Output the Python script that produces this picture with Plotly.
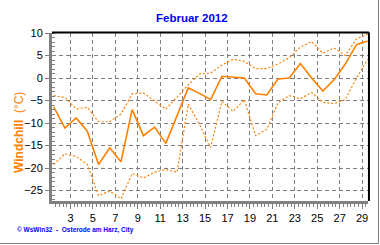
import plotly.graph_objects as go
from datetime import datetime, timedelta

# ---- data ----
days = list(range(1, 30))
windchill_mean = [-6.4, -11.1, -8.85, -11.8, -19.2, -15.5, -18.6, -7.0, -12.8, -10.9,
                  -14.5, -8.3, -2.2, -3.4, -4.8, 0.4, 0.2, 0.0, -3.5, -3.75,
                  -0.2, 0.0, 3.2, 0.0, -2.9, -0.4, 3.1, 7.4, 8.2]
windchill_max = [-3.9, -4.3, -6.85, -6.5, -9.7, -9.7, -8.0, -3.5, -3.3, -5.2,
                 -6.9, -4.2, -1.5, 0.9, 1.1, 2.9, 4.2, 3.7, 2.1, 2.1,
                 3.1, 4.5, 6.9, 8.1, 5.5, 6.7, 5.0, 8.7, 9.8]
windchill_min = [-19.2, -16.8, -17.4, -19.2, -26.1, -25.1, -26.8, -21.2, -22.2, -20.9,
                 -20.3, -20.9, -5.8, -10.3, -15.4, -5.2, -7.4, -4.8, -12.8, -11.4,
                 -5.5, -3.9, -4.6, -3.2, -5.4, -5.7, -4.8, 0.0, 4.1]
title_text = "Februar 2012"
ylabel_text = "<b>Windchill</b>  (°C)"
footer_text = "© WsWin32  -  Osterode am Harz, City"

x = [datetime(2012, 2, d, 12, 0) for d in days]

ORANGE = "#FF8000"
GRID = "#808080"

W, H = 380, 245
ML, MR, MT, MB = 52, 12, 33, 44
PW, PH = W - ML - MR, H - MT - MB


def px2paper_x(px):
    return (px - ML) / PW


def px2paper_y(py):
    return (H - MB - py) / PH


fig = go.Figure()
fig.add_trace(go.Scatter(x=x, y=windchill_max, mode="lines",
                         line=dict(color=ORANGE, width=1.2, dash="2px,2px")))
fig.add_trace(go.Scatter(x=x, y=windchill_min, mode="lines",
                         line=dict(color=ORANGE, width=1.2, dash="2px,2px")))
fig.add_trace(go.Scatter(x=x, y=windchill_mean, mode="lines",
                         line=dict(color=ORANGE, width=1.6)))

fig.update_layout(
    width=W, height=H,
    margin=dict(l=ML, r=MR, t=MT, b=MB, pad=0),
    paper_bgcolor="white", plot_bgcolor="white",
    showlegend=False,
    font=dict(family="Liberation Sans, Arial", size=11, color="black"),
)

fig.update_xaxes(
    type="date",
    range=[datetime(2012, 2, 1, 8, 24), datetime(2012, 2, 29, 12, 40)],
    tick0="2012-02-01", dtick=2 * 86400000, tickformat="%-d",
    ticks="outside", ticklen=5, tickcolor=GRID, tickwidth=1,
    showline=True, linecolor=GRID, linewidth=3,
    showgrid=True, gridcolor=GRID, gridwidth=1, griddash="4px,3px",
    zeroline=False,
    minor=dict(dtick=8 * 3600000, ticks="outside", ticklen=3, tickcolor=GRID, showgrid=False),
    tickfont=dict(size=11),
)
fig.update_yaxes(
    range=[-27.3, 10],
    tick0=0, dtick=5,
    ticks="outside", ticklen=4, tickcolor=GRID, tickwidth=1,
    showline=True, linecolor=GRID, linewidth=3,
    showgrid=True, gridcolor=GRID, gridwidth=1, griddash="4px,3px",
    zeroline=False,
    minor=dict(dtick=1, ticks="inside", ticklen=3, tickcolor=GRID, showgrid=False),
    tickfont=dict(size=11),
)

# top and right black frame lines
fig.add_shape(type="line", xref="paper", yref="paper", x0=0, x1=1.003, y0=1.003, y1=1.003,
              line=dict(color="black", width=2))
fig.add_shape(type="line", xref="paper", yref="paper", x0=1.003, x1=1.003, y0=0, y1=1.003,
              line=dict(color="black", width=2))
# outer gray border (right & bottom)
bx = px2paper_x(378.5)
by = px2paper_y(243.5)
fig.add_shape(type="line", xref="paper", yref="paper", x0=px2paper_x(0), x1=bx, y0=by, y1=by,
              line=dict(color=GRID, width=1))
fig.add_shape(type="line", xref="paper", yref="paper", x0=bx, x1=bx, y0=by, y1=px2paper_y(0),
              line=dict(color=GRID, width=1))

fig.add_annotation(text="<b>" + title_text + "</b>", xref="paper", yref="paper",
                   x=px2paper_x(191.5), y=px2paper_y(18), xanchor="center", yanchor="middle",
                   showarrow=False, font=dict(size=11.5, color="#0000FF"))
fig.add_annotation(text=ylabel_text, xref="paper", yref="paper", textangle=-90,
                   x=px2paper_x(19), y=px2paper_y(133), xanchor="center", yanchor="middle",
                   showarrow=False, font=dict(size=12, color=ORANGE))
fig.add_annotation(text="<b>" + footer_text + "</b>", xref="paper", yref="paper",
                   x=px2paper_x(15), y=px2paper_y(230), xanchor="left", yanchor="middle",
                   showarrow=False, font=dict(size=6.5, color="#0000FF"))

fig.write_html("out.html")
